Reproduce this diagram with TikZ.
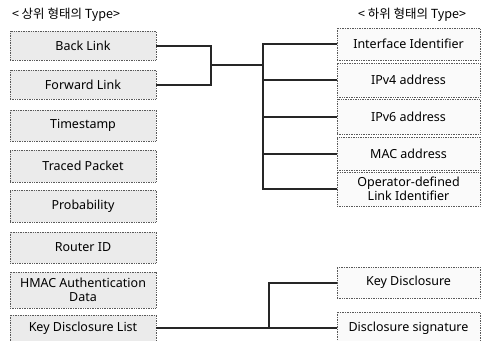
\documentclass[tikz,border=0pt]{standalone}
\usepackage{fontspec}
\setmainfont{Noto Sans}
\newfontfamily\kofont{Noto Sans CJK KR}
\begin{document}
\begin{tikzpicture}[x=1pt,y=-1pt,
  box/.style={draw=black!65, densely dotted, line width=0.7pt, inner sep=0pt,
    font=\fontsize{12.5}{14.5}\selectfont, align=center, text=black},
  lbox/.style={box, fill=black!8, minimum width=146pt},
  rbox/.style={box, fill=black!2, minimum width=143pt},
  hdr/.style={font=\kofont\fontsize{12.5}{14}\selectfont, inner sep=0pt},
  conn/.style={line width=2pt, draw=black!85, solid}]
\useasboundingbox (0,0) rectangle (481,340);
% headers
\node[hdr] (hl) at (66,15) {< 상위 형태의 Type>};
\node[hdr] (hr) at (412,15) {< 하위 형태의 Type>};
% left boxes
\node[lbox, minimum height=29pt] (bl) at (83,45.5) {Back Link};
\node[lbox, minimum height=29pt] (fl) at (83,84.5) {Forward Link};
\node[lbox, minimum height=31pt] (ts) at (83,125.5) {Timestamp};
\node[lbox, minimum height=32pt] (tp) at (83,166) {Traced Packet};
\node[lbox, minimum height=32pt] (pr) at (83,206) {Probability};
\node[lbox, minimum height=31pt] (rid) at (83,247.5) {Router ID};
\node[lbox, minimum height=36pt] (hm) at (83,290) {HMAC Authentication\\Data};
\node[lbox, minimum height=26pt] (kdl) at (83,328) {Key Disclosure List};
% right boxes
\node[rbox, minimum height=32pt] (ii) at (408.5,44) {Interface Identifier};
\node[rbox, minimum height=34pt] (v4) at (408.5,80) {IPv4 address};
\node[rbox, minimum height=35pt] (v6) at (408.5,116.5) {IPv6 address};
\node[rbox, minimum height=33pt] (mac) at (408.5,153.5) {MAC address};
\node[rbox, minimum height=34pt] (op) at (408.5,189) {Operator-defined\\Link Identifier};
\node[rbox, minimum height=31pt] (kd) at (408.5,282.5) {Key Disclosure};
\node[rbox, minimum height=32pt] (ds) at (408.5,328) {Disclosure signature};
% connectors
\coordinate (j1) at (211,65);
\coordinate (b1) at (263,65);
\coordinate (b2) at (269,328);
\draw[conn] (bl.east) -| (j1) |- (fl.east);
\draw[conn] (j1) -- (b1);
\draw[conn] (ii.west) -| (b1);
\draw[conn] (op.west) -| (b1);
\draw[conn] (v4.west) -- (v4.west -| b1);
\draw[conn] (v6.west) -- (v6.west -| b1);
\draw[conn] (mac.west) -- (mac.west -| b1);
\draw[conn] (kdl.east) -- (ds.west);
\draw[conn] (kd.west) -| (b2);
\end{tikzpicture}
\end{document}
